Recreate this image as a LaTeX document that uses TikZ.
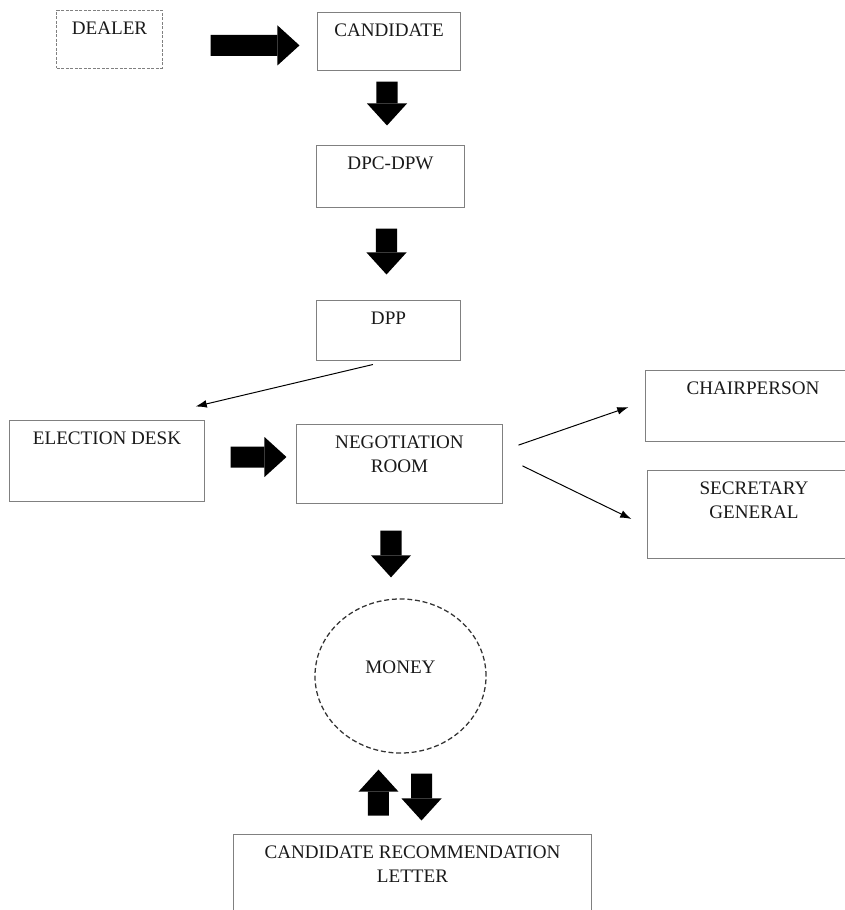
\documentclass[tikz,border=0pt]{standalone}
\usepackage{fontspec}
\setmainfont{Liberation Serif}
\usetikzlibrary{shapes.geometric,arrows.meta}

\tikzset{
  stage/.style={shape=rectangle, draw=gray, line width=0.7pt, inner sep=0pt, text height=0.6cm, text=black!90, font=\fontsize{13.6}{17.7}\selectfont},
  bigarrow/.style={line width=0.525cm, -{Triangle[length=0.55cm, width=1cm, line width=0pt]}},
  thinarrow/.style={line width=0.7pt, -{Latex[length=8pt, width=5.5pt]}}
}

\begin{document}
\begin{tikzpicture}[x=0.025cm, y=-0.025cm]
\useasboundingbox (0,0) rectangle (845,910);
\clip (0,0) rectangle (845,910);

\node (dealer) at (109.5,39) [stage, dashed, dash pattern=on 2pt off 1.2pt, minimum width=2.625cm, text depth=0.85cm]{DEALER};
\node (cand) at (389,41) [stage, minimum width=3.55cm, text depth=0.85cm]{CANDIDATE};
\node (dpc) at (390.5,176) [stage, minimum width=3.675cm, text depth=0.95cm]{DPC-DPW};
\node (dpp) at (388.5,330) [stage, minimum width=3.575cm, text depth=0.9cm]{DPP};
\node (elect) at (107,460.5) [stage, minimum width=4.85cm, text depth=1.425cm]{ELECTION DESK};
\node (neg) at (399.5,463.5) [stage, minimum width=5.125cm, text depth=1.375cm]{\begin{tabular}[t]{@{}c@{}}NEGOTIATION\\ROOM\end{tabular}};
\node (chair) at (753,405.5) [stage, minimum width=5.35cm, text depth=1.175cm]{CHAIRPERSON};
\node (sec) at (754,514) [stage, minimum width=5.3cm, text depth=1.6cm]{\begin{tabular}[t]{@{}c@{}}SECRETARY\\GENERAL\end{tabular}};
\node (money) at (400.5,676) [shape=ellipse, draw=black!80, dashed, dash pattern=on 3.5pt off 2pt, line width=0.9pt, minimum width=4.275cm, minimum height=3.85cm, inner sep=0pt, text height=0.32cm, text depth=0.47cm, text=black!90, font=\fontsize{13.6}{17.7}\selectfont]{MONEY};
\node (letter) at (412.5,882) [stage, minimum width=8.925cm, text depth=1.8cm]{\begin{tabular}[t]{@{}c@{}}CANDIDATE RECOMMENDATION\\LETTER\end{tabular}};

\draw [bigarrow] ([xshift=1.2cm,yshift=-0.16cm]dealer.east) -- ([xshift=-0.45cm,yshift=-0.11cm]cand.west);
\draw [bigarrow] ([xshift=-0.05cm,yshift=-0.275cm]cand.south) -- ([xshift=-0.0875cm,yshift=0.475cm]dpc.north);
\draw [bigarrow] ([xshift=-0.1cm,yshift=-0.525cm]dpc.south) -- ([xshift=-0.05cm,yshift=0.625cm]dpp.north);
\draw [thinarrow] ([xshift=-0.39cm,yshift=-0.1cm]dpp.south) -- ([xshift=-0.225cm,yshift=0.325cm]elect.north east);
\draw [bigarrow] ([xshift=0.65cm,yshift=0.0875cm]elect.east) -- ([xshift=-0.25cm,yshift=0.1625cm]neg.west);
\draw [thinarrow] ([xshift=0.4cm,yshift=0.46cm]neg.east) -- ([xshift=-0.425cm,yshift=-0.04cm]chair.west);
\draw [thinarrow] ([xshift=0.5cm,yshift=-0.06cm]neg.east) -- ([xshift=-0.4cm,yshift=-0.125cm]sec.west);
\draw [bigarrow] ([xshift=-0.2125cm,yshift=-0.675cm]neg.south) -- ([xshift=-0.2375cm,yshift=0.525cm]money.north);
\draw [bigarrow] ([xshift=-0.85cm,yshift=0.45cm]letter.north) -- ([xshift=-0.55cm,yshift=-0.4cm]money.south);
\draw [bigarrow] ([xshift=0.525cm,yshift=-0.5cm]money.south) -- ([xshift=0.225cm,yshift=0.325cm]letter.north);
\end{tikzpicture}
\end{document}
